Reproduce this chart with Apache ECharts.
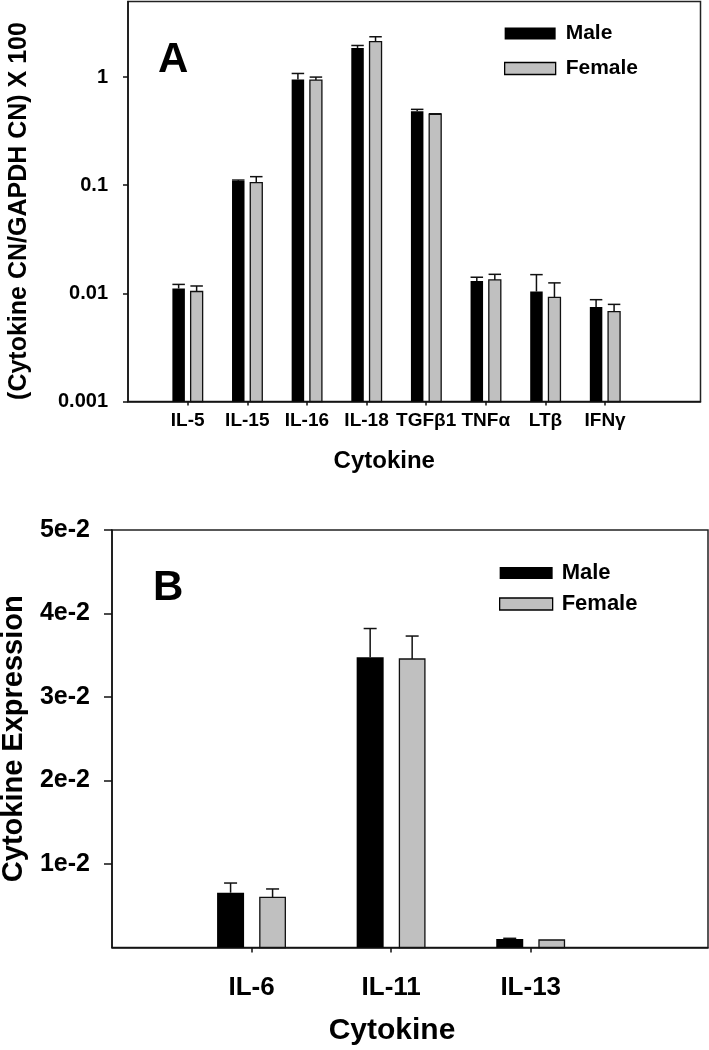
<!DOCTYPE html>
<html>
<head>
<meta charset="utf-8">
<script src="https://cdn.jsdelivr.net/npm/echarts@6/dist/echarts.min.js"></script>
<style>
html,body{margin:0;padding:0;background:#fff;}
#c{width:709px;height:1050px;}
</style>
</head>
<body>
<div id="c"></div>
<script>
// ---- Panel A data (log scale) ----
var categoriesA = ['IL-5', 'IL-15', 'IL-16', 'IL-18', 'TGF\u03b21', 'TNF\u03b1', 'LT\u03b2', 'IFN\u03b3'];
var maleA      = [0.0111, 0.1096, 0.952, 1.86, 0.482, 0.0130, 0.0104, 0.00746];
var maleErrA   = [0.0010, 0.0020, 0.128, 0.10, 0.021, 0.0011, 0.0045, 0.00128];
var femaleA    = [0.0104, 0.1057, 0.938, 2.13, 0.453, 0.0133, 0.0092, 0.00677];
var femaleErrA = [0.0013, 0.0143, 0.062, 0.23, 0.005, 0.0017, 0.0033, 0.00114];
var yTicksA      = [0.001, 0.01, 0.1, 1];
var yTickLabelsA = ['0.001', '0.01', '0.1', '1'];

// ---- Panel B data (linear scale) ----
var categoriesB = ['IL-6', 'IL-11', 'IL-13'];
var maleB      = [0.00656, 0.03475, 0.00102];
var maleErrB   = [0.00116, 0.00345, 0.00008];
var femaleB    = [0.00601, 0.03455, 0.00090];
var femaleErrB = [0.00100, 0.00275, 0];
var yTicksB      = [0.01, 0.02, 0.03, 0.04, 0.05];
var yTickLabelsB = ['1e-2', '2e-2', '3e-2', '4e-2', '5e-2'];

var FONT = 'Liberation Sans, Arial, sans-serif';

function toData(vals, errs) {
  return vals.map(function (v, i) { return [i + 1, v, errs[i]]; });
}
function positions(cats) { return cats.map(function (c, i) { return i + 1; }); }

function makeRender(offset, width, capW, fill, stroke, base) {
  return function (params, api) {
    var x = api.value(0), v = api.value(1), e = api.value(2);
    var p0 = api.coord([x, base]);
    var p1 = api.coord([x, v]);
    var p2 = api.coord([x, v + e]);
    var cx = p0[0] + offset;
    var children = [{
      type: 'rect',
      shape: { x: cx - width / 2, y: p1[1], width: width, height: p0[1] - p1[1] },
      style: { fill: fill, stroke: stroke, lineWidth: stroke ? 1.3 : 0 }
    }];
    if (e > 0 && p1[1] - p2[1] > 0.5) {
      children.push({ type: 'line', shape: { x1: cx, y1: p1[1], x2: cx, y2: p2[1] }, style: { stroke: '#111', lineWidth: 1.5 } });
      children.push({ type: 'line', shape: { x1: cx - capW / 2, y1: p2[1], x2: cx + capW / 2, y2: p2[1] }, style: { stroke: '#111', lineWidth: 1.5 } });
    }
    return { type: 'group', children: children };
  };
}

var chart = echarts.init(document.getElementById('c'), null, { renderer: 'canvas' });

var axisLineStyle = { show: true, lineStyle: { color: '#111', width: 1.5 } };

var option = {
  backgroundColor: '#fff',
  animation: false,
  title: [
    { text: 'A', left: 158, top: 39, padding: 0, textStyle: { fontFamily: FONT, fontSize: 42, fontWeight: 'bold', color: '#000' } },
    { text: 'B', left: 153, top: 567, padding: 0, textStyle: { fontFamily: FONT, fontSize: 42, fontWeight: 'bold', color: '#000' } }
  ],
  legend: [
    {
      orient: 'vertical', left: 499, top: 18, itemWidth: 51, itemHeight: 12, itemGap: 14,
      icon: 'rect', selectedMode: false,
      textStyle: { fontFamily: FONT, fontSize: 21, fontWeight: 'bold', color: '#000', padding: [0, 0, 0, 5] },
      data: [
        { name: 'Male', itemStyle: { color: '#000', borderWidth: 0 } },
        { name: 'Female', itemStyle: { color: '#c0c0c0', borderColor: '#000', borderWidth: 1.3 } }
      ]
    },
    {
      orient: 'vertical', left: 494, top: 557, itemWidth: 53, itemHeight: 12, itemGap: 9,
      icon: 'rect', selectedMode: false,
      textStyle: { fontFamily: FONT, fontSize: 22, fontWeight: 'bold', color: '#000', padding: [0, 0, 0, 4] },
      data: [
        { name: 'Male', itemStyle: { color: '#000', borderWidth: 0 } },
        { name: 'Female', itemStyle: { color: '#c0c0c0', borderColor: '#000', borderWidth: 1.3 } }
      ]
    }
  ],
  grid: [
    { left: 128, top: 1.5, right: 8.5, bottom: 648.5, show: true, borderColor: '#222', borderWidth: 1.5, backgroundColor: 'transparent', containLabel: false, outerBoundsMode: 'none' },
    { left: 112, top: 530, right: 1, bottom: 102.5, show: true, borderColor: '#222', borderWidth: 1.5, backgroundColor: 'transparent', containLabel: false, outerBoundsMode: 'none' }
  ],
  xAxis: [
    {
      gridIndex: 0, type: 'value', min: 0, max: 9.6,
      axisLine: axisLineStyle,
      axisTick: { show: true, length: 4, lineStyle: { color: '#111', width: 1.5 }, customValues: positions(categoriesA) },
      axisLabel: {
        customValues: positions(categoriesA), margin: 10,
        formatter: function (v) { return categoriesA[Math.round(v) - 1] || ''; },
        fontFamily: FONT, fontSize: 19, fontWeight: 'bold', color: '#000'
      },
      splitLine: { show: false },
      name: 'Cytokine', nameLocation: 'middle', nameGap: 48,
      nameTextStyle: { fontFamily: FONT, fontSize: 24, fontWeight: 'bold', color: '#000', padding: [0, 60, 0, 0] }
    },
    {
      gridIndex: 1, type: 'value', min: 0, max: 4.27,
      axisLine: axisLineStyle,
      axisTick: { show: true, length: 5, lineStyle: { color: '#111', width: 1.5 }, customValues: positions(categoriesB) },
      axisLabel: {
        customValues: positions(categoriesB), margin: 27,
        formatter: function (v) { return categoriesB[Math.round(v) - 1] || ''; },
        fontFamily: FONT, fontSize: 26, fontWeight: 'bold', color: '#000'
      },
      splitLine: { show: false },
      name: 'Cytokine', nameLocation: 'middle', nameGap: 68,
      nameTextStyle: { fontFamily: FONT, fontSize: 30, fontWeight: 'bold', color: '#000', padding: [0, 36, 0, 0] }
    }
  ],
  yAxis: [
    {
      gridIndex: 0, type: 'log', logBase: 10, min: 0.001, max: 5,
      axisLine: axisLineStyle,
      axisTick: { show: true, length: 5, lineStyle: { color: '#111', width: 1.5 }, customValues: yTicksA },
      axisLabel: {
        customValues: yTicksA, margin: 20,
        formatter: function (v) {
          for (var i = 0; i < yTicksA.length; i++) { if (Math.abs(Math.log10(v) - Math.log10(yTicksA[i])) < 1e-6) return yTickLabelsA[i]; }
          return '';
        },
        fontFamily: FONT, fontSize: 20, fontWeight: 'bold', color: '#000'
      },
      splitLine: { show: false },
      minorTick: { show: false },
      name: '(Cytokine CN/GAPDH CN) X 100', nameLocation: 'middle', nameGap: 96, nameRotate: 90,
      nameTextStyle: { fontFamily: FONT, fontSize: 25, fontWeight: 'bold', color: '#000', padding: [0, 19, 0, 0] }
    },
    {
      gridIndex: 1, type: 'value', min: 0, max: 0.05, interval: 0.01,
      axisLine: axisLineStyle,
      axisTick: { show: true, length: 8, lineStyle: { color: '#111', width: 1.5 }, customValues: yTicksB },
      axisLabel: {
        customValues: yTicksB, margin: 22,
        formatter: function (v) {
          for (var i = 0; i < yTicksB.length; i++) { if (Math.abs(v - yTicksB[i]) < 1e-9) return yTickLabelsB[i]; }
          return '';
        },
        fontFamily: FONT, fontSize: 25, fontWeight: 'bold', color: '#000'
      },
      splitLine: { show: false },
      name: 'Cytokine Expression', nameLocation: 'middle', nameGap: 84, nameRotate: 90,
      nameTextStyle: { fontFamily: FONT, fontSize: 29, fontWeight: 'bold', color: '#000' }
    }
  ],
  series: [
    { name: 'Male', type: 'custom', xAxisIndex: 0, yAxisIndex: 0, data: toData(maleA, maleErrA),
      renderItem: makeRender(-9, 12.5, 12.5, '#000', null, 0.001), itemStyle: { color: '#000' } },
    { name: 'Female', type: 'custom', xAxisIndex: 0, yAxisIndex: 0, data: toData(femaleA, femaleErrA),
      renderItem: makeRender(9, 12, 12.5, '#c0c0c0', '#111', 0.001), itemStyle: { color: '#c0c0c0' } },
    { name: 'Male', type: 'custom', xAxisIndex: 1, yAxisIndex: 1, data: toData(maleB, maleErrB),
      renderItem: makeRender(-21, 27, 13, '#000', null, 0), itemStyle: { color: '#000' } },
    { name: 'Female', type: 'custom', xAxisIndex: 1, yAxisIndex: 1, data: toData(femaleB, femaleErrB),
      renderItem: makeRender(21, 25.5, 13, '#c0c0c0', '#111', 0), itemStyle: { color: '#c0c0c0' } }
  ]
};
chart.setOption(option);
</script>
</body>
</html>
